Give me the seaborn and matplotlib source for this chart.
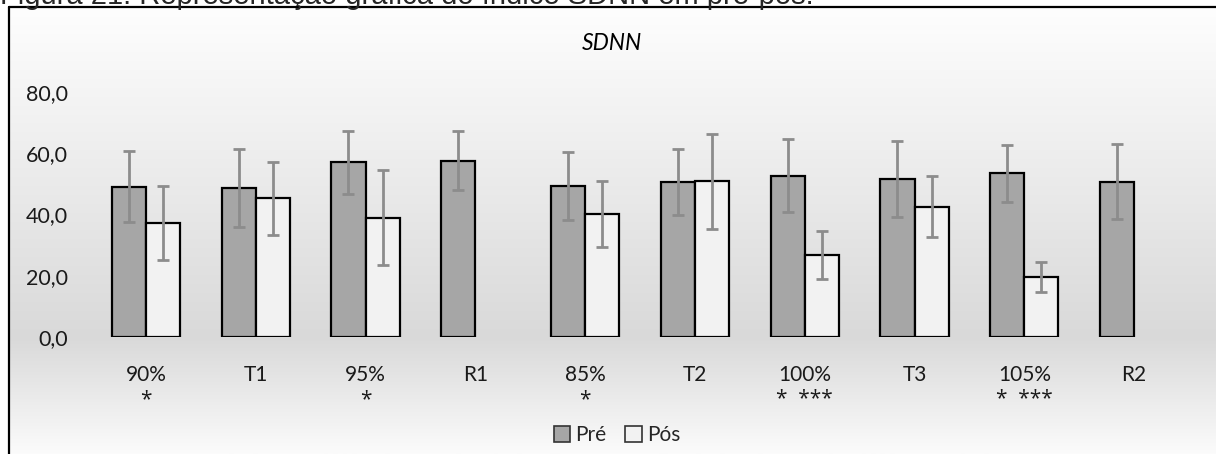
import matplotlib
matplotlib.use("Agg")
import matplotlib.pyplot as plt
import matplotlib.lines as mlines
from matplotlib.patches import Patch
from matplotlib.ticker import FuncFormatter
import numpy as np
import pandas as pd
import seaborn as sns

# data
categories = ["90%", "T1", "95%", "R1", "85%", "T2", "100%", "T3", "105%", "R2"]
pre_mean = [49.1, 48.6, 57.0, 57.6, 49.3, 50.5, 52.7, 51.6, 53.4, 50.7]
pre_sd = [11.5, 12.7, 10.3, 9.7, 11.0, 10.8, 12.0, 12.5, 9.4, 12.2]
pos_mean = [37.2, 45.3, 39.0, np.nan, 40.1, 50.8, 26.8, 42.6, 19.6, np.nan]
pos_sd = [12.0, 12.0, 15.4, np.nan, 10.8, 15.4, 7.9, 10.1, 4.8, np.nan]
signif = ["*", "", "*", "", "*", "", "*  ***", "", "*  ***", ""]
groups = ["Pré", "Pós"]
colors = {"Pré": "#a6a6a6", "Pós": "#f2f2f2"}

W, H = 1216, 454
FRAME_TOP = 7
sns.set_style("white")
plt.rcParams["font.family"] = ["Lato", "DejaVu Sans"]

df = pd.DataFrame({
    "cat": categories * 2,
    "grupo": ["Pré"] * len(categories) + ["Pós"] * len(categories),
    "valor": pre_mean + pos_mean,
}).dropna()

fig = plt.figure(figsize=(W / 100, H / 100), dpi=100)
fig.patch.set_facecolor("white")

# gradient background of the chart area
bg = fig.add_axes([8 / W, 0, 1 - 8 / W, 1 - FRAME_TOP / H], zorder=-5)
ys = np.linspace(0, 1, 300)
stops_t = [0.0, 0.74, 1.0]
stops_v = [254, 217, 251]
col = np.interp(ys, stops_t, stops_v) / 255.0
grad = np.dstack([col, col, col]).reshape(-1, 1, 3)
bg.imshow(grad, aspect="auto", extent=[0, 1, 1, 0])
bg.set_xlim(0, 1)
bg.set_ylim(1, 0)
bg.axis("off")

ax = fig.add_axes([91 / W, 1 - 337 / H, (1189 - 91) / W, (337 - 92) / H])
ax.set_facecolor("none")
width = 0.62
sns.barplot(data=df, x="cat", y="valor", hue="grupo", order=categories,
            hue_order=groups, palette=colors, width=width, errorbar=None,
            edgecolor="black", linewidth=1.6, saturation=1, legend=False, ax=ax)

# error bars (mean ± sd)
xs = np.arange(len(categories))
off = width / 4
ax.errorbar(xs - off, pre_mean, yerr=pre_sd, fmt="none", ecolor="#8c8c8c",
            elinewidth=2, capsize=4.3, capthick=2, zorder=5)
ax.errorbar(xs + off, pos_mean, yerr=pos_sd, fmt="none", ecolor="#8c8c8c",
            elinewidth=2, capsize=4.3, capthick=2, zorder=5)

ax.set_xlim(-0.5, len(categories) - 0.5)
ax.set_ylim(0, 80)
ax.set_yticks([0, 20, 40, 60, 80])
ax.yaxis.set_major_formatter(FuncFormatter(lambda v, p: f"{v:.1f}".replace(".", ",")))
ax.tick_params(axis="y", length=0, pad=16.5, labelsize=15.5, labelcolor="#1a1a1a")
ax.tick_params(axis="x", length=0, pad=20, labelsize=15, labelcolor="#1a1a1a")
ax.set_xlabel("")
ax.set_ylabel("")
for s in ax.spines.values():
    s.set_visible(False)

# significance marks under the category labels
for i, mark in enumerate(signif):
    if mark:
        ax.annotate(mark, xy=(i, 0), xycoords=("data", "axes fraction"),
                    xytext=(0, -(405 - 337) * 0.72), textcoords="offset points",
                    ha="center", va="baseline", fontsize=15,
                    family=["Open Sans", "DejaVu Sans"], color="#1a1a1a",
                    annotation_clip=False)

fig.text(612 / W, 1 - 43 / H, "SDNN", ha="center", va="center",
         fontsize=16.5, style="italic", color="black")

handles = [Patch(facecolor=colors[g], edgecolor="#333333", linewidth=1.2, label=g)
           for g in groups]
fig.legend(handles=handles, loc="center", bbox_to_anchor=(617 / W, 1 - 435 / H),
           ncol=2, frameon=False, fontsize=15, handlelength=0.8, handleheight=0.8,
           handletextpad=0.25, columnspacing=0.9)

# chart frame (top and left edges)
fig.add_artist(mlines.Line2D([8.5 / W, 1], [1 - FRAME_TOP / H, 1 - FRAME_TOP / H],
                             color="black", lw=1.6))
fig.add_artist(mlines.Line2D([8.5 / W, 8.5 / W], [0, 1 - FRAME_TOP / H],
                             color="black", lw=1.6))

# caption above the frame, cut by the image edge as in the reference
fig.text(0, 1 - 3.5 / H, "Figura 21: Representação gráfica do índice SDNN em pré-pós.",
         ha="left", va="baseline", fontsize=21, family=["Liberation Sans", "DejaVu Sans"])

fig.savefig("out.png", dpi=100)
